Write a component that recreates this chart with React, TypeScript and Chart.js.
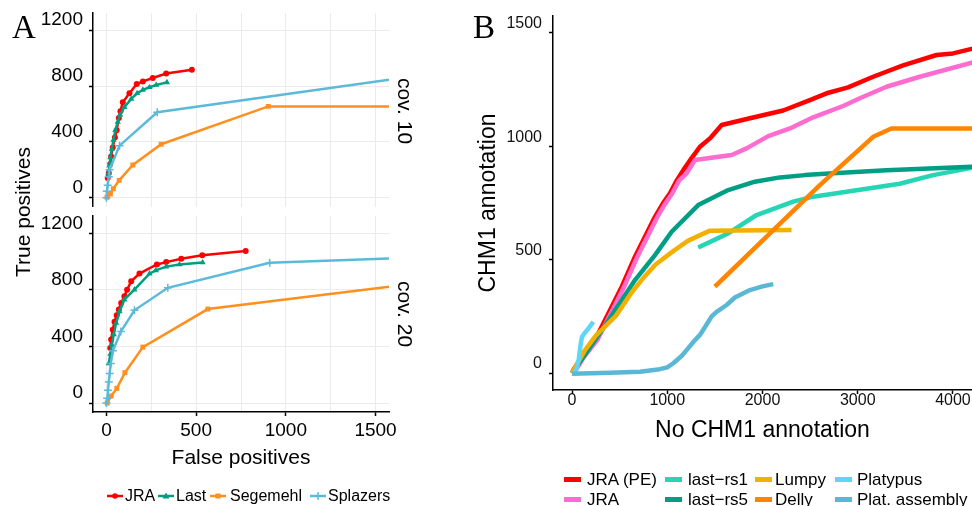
import React, { useEffect, useRef } from "react";
import { Chart, registerables } from "chart.js";

Chart.register(...registerables);

const SANS = "'Liberation Sans', Arial, Helvetica, sans-serif";
const SERIF = "'Liberation Serif', 'Times New Roman', serif";

// ---------- Panel A ----------
const A_X_TICKS = [0, 250, 500, 750, 1000, 1250, 1500];
const A_X_LABELED = [0, 500, 1000, 1500];
const A_Y_TICKS = [0, 400, 800, 1200];
const A_SERIES = ["JRA", "Last", "Segemehl", "Splazers"];
const A_COLORS = ["#ff0000", "#009e80", "#ff8f1f", "#5bbad9"];
const A_MARKERS = ["circle", "triangle", "rect", "cross"];
const A_FACETS = ["cov. 10", "cov. 20"];

// cov. 10
const jra10FP = [7, 13, 21, 26, 35, 47, 57, 69, 78, 91, 128, 169, 203, 258, 333, 476];
const jra10TP = [142, 177, 241, 295, 359, 432, 484, 571, 620, 684, 748, 814, 833, 857, 890, 916];
const last10FP = [11, 17, 22, 30, 39, 50, 63, 76, 100, 138, 171, 203, 240, 277, 337];
const last10TP = [177, 229, 288, 349, 413, 484, 543, 595, 649, 708, 748, 772, 791, 807, 826];
const seg10FP = [3, 22, 38, 71, 147, 305, 902, 1800];
const seg10TP = [3, 26, 64, 124, 234, 383, 654, 654];
const spl10FP = [0, 2, 7, 13, 17, 73, 283, 1800];
const spl10TP = [0, 47, 90, 150, 200, 373, 612, 886];

// cov. 20
const jra20FP = [21, 26, 35, 45, 57, 69, 82, 100, 115, 138, 184, 281, 333, 417, 534, 776];
const jra20TP = [390, 450, 518, 575, 622, 662, 708, 755, 802, 861, 916, 980, 997, 1021, 1045, 1075];
const last20FP = [13, 22, 30, 41, 54, 73, 100, 156, 240, 275, 333, 407, 536];
const last20TP = [280, 347, 412, 486, 566, 648, 732, 802, 915, 938, 965, 980, 994];
const seg20FP = [4, 26, 58, 103, 203, 565, 1800];
const seg20TP = [0, 50, 104, 215, 396, 665, 857];
const spl20FP = [0, 4, 8, 13, 18, 24, 36, 80, 156, 342, 910, 1800];
const spl20TP = [0, 35, 90, 150, 210, 280, 370, 506, 656, 815, 992, 1033];

// ---------- Panel B ----------
const B_X_TICKS = [0, 1000, 2000, 3000, 4000];
const B_Y_TICKS = [0, 500, 1000, 1500];
const B_SERIES = ["JRA (PE)", "JRA", "last\u2212rs1", "last\u2212rs5", "Lumpy", "Delly", "Platypus", "Plat. assembly"];
const B_COLORS = ["#ff0000", "#ff6ccf", "#24d6b4", "#009e84", "#f4b000", "#ff8500", "#5fd6f6", "#5ab8d6"];

const jrapeX = [0, 14, 100, 241, 381, 522, 661, 771, 871, 950, 1028, 1100, 1168, 1250, 1343, 1448, 1571, 1868, 2217, 2497, 2673, 2899, 3162, 3476, 3827, 4001, 4197, 4300];
const jrapeY = [0, 13, 70, 146, 263, 381, 513, 605, 689, 745, 793, 850, 895, 945, 998, 1035, 1094, 1124, 1158, 1204, 1234, 1260, 1307, 1357, 1403, 1410, 1430, 1438];
const jraX = [0, 40, 125, 266, 406, 547, 686, 796, 896, 975, 1053, 1125, 1203, 1291, 1676, 1833, 2060, 2288, 2532, 2847, 3022, 3302, 3652, 4197, 4300];
const jraY = [0, 13, 70, 146, 263, 381, 513, 605, 689, 745, 793, 850, 881, 940, 962, 991, 1045, 1079, 1128, 1178, 1212, 1263, 1307, 1369, 1380];
const rs1X = [1325, 1640, 1938, 2322, 2532, 3442, 3791, 4197, 4300];
const rs1Y = [554, 616, 697, 756, 778, 835, 873, 905, 912];
const rs5X = [0, 150, 330, 504, 661, 871, 1046, 1325, 1640, 1920, 2183, 2445, 2742, 3302, 4197, 4300];
const rs5Y = [0, 90, 200, 310, 410, 520, 623, 741, 807, 844, 863, 873, 881, 895, 910, 911];
const lumpyX = [0, 136, 250, 460, 620, 760, 880, 1070, 1220, 1448, 2305];
const lumpyY = [0, 101, 165, 252, 352, 425, 480, 540, 584, 628, 631];
const dellyX = [1500, 2602, 3162, 3354, 4300];
const dellyY = [381, 829, 1042, 1079, 1079];
const platX = [20, 45, 70, 90, 105, 136, 170, 224];
const platY = [0, 15, 60, 125, 160, 178, 196, 226];
const asmX = [0, 399, 714, 900, 1000, 1063, 1150, 1203, 1280, 1343, 1400, 1466, 1518, 1623, 1710, 1800, 1868, 2000, 2113];
const asmY = [-3, 1, 6, 15, 25, 43, 75, 101, 140, 168, 205, 250, 270, 300, 333, 352, 366, 382, 392];

const A10 = [[jra10FP, jra10TP], [last10FP, last10TP], [seg10FP, seg10TP], [spl10FP, spl10TP]];
const A20 = [[jra20FP, jra20TP], [last20FP, last20TP], [seg20FP, seg20TP], [spl20FP, spl20TP]];
const BDATA = [[jrapeX, jrapeY], [jraX, jraY], [rs1X, rs1Y], [rs5X, rs5Y], [lumpyX, lumpyY], [dellyX, dellyY], [platX, platY], [asmX, asmY]];

const zeroPad = (s: any) => {
  s.paddingLeft = 0; s.paddingRight = 0; s.paddingTop = 0; s.paddingBottom = 0;
};

function aDatasets(facet: number[][][]) {
  return facet.map(([xs, ys], i) => {
    const m = A_MARKERS[i];
    return {
      label: A_SERIES[i],
      data: xs.map((x, j) => ({ x, y: ys[j] })),
      borderColor: A_COLORS[i],
      backgroundColor: A_COLORS[i],
      pointBackgroundColor: A_COLORS[i],
      pointBorderColor: A_COLORS[i],
      borderWidth: 2.5,
      pointStyle: m,
      pointRadius: m === "cross" ? 4 : m === "rect" ? 3.5 : m === "triangle" ? 3.6 : 3,
      pointBorderWidth: m === "cross" ? 1.5 : 0,
      tension: 0,
      fill: false,
      clip: 0,
      order: -i,
    };
  });
}

function aOptions(bottom: boolean): any {
  return {
    animation: false,
    responsive: false,
    events: [],
    layout: { padding: { left: 0, right: 31, top: 13, bottom: bottom ? 0 : 3 } },
    plugins: { legend: { display: false }, tooltip: { enabled: false } },
    scales: {
      x: {
        type: "linear",
        min: -75,
        max: 1575,
        afterBuildTicks: (s: any) => { s.ticks = A_X_TICKS.map((v) => ({ value: v })); },
        afterFit: (s: any) => { s.height = bottom ? 94 : 0; zeroPad(s); },
        grid: {
          color: "#ebebeb",
          lineWidth: 1,
          drawTicks: bottom,
          tickLength: 4,
          tickWidth: 1.5,
          tickColor: (c: any) => (c.tick && A_X_LABELED.includes(c.tick.value) ? "#000" : "rgba(0,0,0,0)"),
        },
        border: { display: bottom, color: "#000", width: 1.5 },
        ticks: {
          display: bottom,
          autoSkip: false,
          maxRotation: 0,
          color: "#000",
          font: { family: SANS, size: 19 },
          padding: 3,
          callback: (v: any) => (A_X_LABELED.includes(v) ? String(v) : ""),
        },
        title: {
          display: bottom,
          text: "False positives",
          color: "#000",
          font: { family: SANS, size: 21 },
          padding: { top: 0, bottom: 35 },
        },
      },
      y: {
        type: "linear",
        min: -63,
        max: 1323,
        afterBuildTicks: (s: any) => { s.ticks = A_Y_TICKS.map((v) => ({ value: v })); },
        afterFit: (s: any) => { s.width = 93; zeroPad(s); },
        grid: { color: "#ebebeb", lineWidth: 1, tickLength: 4, tickWidth: 1.5, tickColor: "#000" },
        border: { display: true, color: "#000", width: 1.5 },
        ticks: {
          autoSkip: false,
          color: "#000",
          font: { family: SANS, size: 19 },
          padding: 6,
          labelOffset: -10,
          callback: (v: any) => String(v),
        },
      },
    },
  };
}

function bOptions(): any {
  return {
    animation: false,
    responsive: false,
    events: [],
    layout: { padding: { left: 0, right: 0, top: 16, bottom: 0 } },
    plugins: { legend: { display: false }, tooltip: { enabled: false } },
    scales: {
      x: {
        type: "linear",
        min: -200,
        max: 4200,
        afterBuildTicks: (s: any) => { s.ticks = B_X_TICKS.map((v) => ({ value: v })); },
        afterFit: (s: any) => { s.height = 116; zeroPad(s); },
        grid: { drawOnChartArea: false, drawTicks: true, tickLength: 4, tickWidth: 1.5, tickColor: "#000" },
        border: { display: true, color: "#000", width: 1.5 },
        ticks: {
          autoSkip: false,
          maxRotation: 0,
          color: "#111",
          font: { family: SANS, size: 16 },
          padding: -3,
          callback: (v: any) => String(v),
        },
        title: {
          display: true,
          text: "No CHM1 annotation",
          color: "#000",
          font: { family: SANS, size: 23 },
          padding: { top: 0, bottom: 62 },
        },
      },
      y: {
        type: "linear",
        min: -75,
        max: 1575,
        afterBuildTicks: (s: any) => { s.ticks = B_Y_TICKS.map((v) => ({ value: v })); },
        afterFit: (s: any) => { s.width = 93; zeroPad(s); },
        grid: { drawOnChartArea: false, drawTicks: true, tickLength: 4, tickWidth: 1.5, tickColor: "#000" },
        border: { display: true, color: "#000", width: 1.5 },
        ticks: {
          autoSkip: false,
          color: "#111",
          font: { family: SANS, size: 16 },
          padding: 7,
          labelOffset: -9,
          callback: (v: any) => String(v),
        },
        title: {
          display: true,
          text: "CHM1 annotation",
          color: "#000",
          font: { family: SANS, size: 23 },
          padding: { top: 15, bottom: 0 },
        },
      },
    },
  };
}

function bDatasets() {
  return BDATA.map(([xs, ys], i) => ({
    label: B_SERIES[i],
    data: xs.map((x, j) => ({ x, y: ys[j] })),
    borderColor: B_COLORS[i],
    backgroundColor: B_COLORS[i],
    borderWidth: 4.5,
    borderJoinStyle: "round",
    pointRadius: 0,
    tension: 0,
    fill: false,
    clip: 0,
    order: -i,
  }));
}

function Marker({ kind, color }: { kind: string; color: string }) {
  if (kind === "circle") return <circle cx={8} cy={5} r={2.8} fill={color} />;
  if (kind === "triangle") return <polygon points="8,1.4 11.4,7.6 4.6,7.6" fill={color} />;
  if (kind === "rect") return <rect x={5.5} y={2.5} width={5} height={5} fill={color} />;
  return <path d="M8 1 V9 M4 5 H12" stroke={color} strokeWidth={1.5} />;
}

const A_LEG_SYM_X = [107, 158, 210, 310];
const A_LEG_TXT_X = [125, 176, 230, 328];
const B_LEG_SYM_X = [564, 665, 755, 835];
const B_LEG_TXT_X = [587, 688, 775, 857];
const B_LEG_ROW_Y = [479, 499];

export default function App() {
  const a1 = useRef<HTMLCanvasElement>(null);
  const a2 = useRef<HTMLCanvasElement>(null);
  const b = useRef<HTMLCanvasElement>(null);

  useEffect(() => {
    const charts: Chart[] = [];
    charts.push(new Chart(a1.current!, { type: "line", data: { datasets: aDatasets(A10) as any }, options: aOptions(false) }));
    charts.push(new Chart(a2.current!, { type: "line", data: { datasets: aDatasets(A20) as any }, options: aOptions(true) }));
    charts.push(new Chart(b.current!, { type: "line", data: { datasets: bDatasets() as any }, options: bOptions() }));
    return () => charts.forEach((c) => c.destroy());
  }, []);

  const text = (style: React.CSSProperties, content: string, key?: any) => (
    <div key={key} style={{ position: "absolute", whiteSpace: "nowrap", lineHeight: 1, color: "#000", ...style }}>{content}</div>
  );

  return (
    <div style={{ position: "fixed", left: 0, top: 0, width: 972, height: 506, background: "#fff", overflow: "hidden", fontFamily: SANS }}>
      <canvas ref={a1} width={420} height={212} style={{ position: "absolute", left: 0, top: 0, width: 420, height: 212 }} />
      <canvas ref={a2} width={420} height={303} style={{ position: "absolute", left: 0, top: 203, width: 420, height: 303 }} />
      <canvas ref={b} width={512} height={506} style={{ position: "absolute", left: 460, top: 0, width: 512, height: 506 }} />

      {text({ left: 12, top: 11, fontFamily: SERIF, fontSize: 33 }, "A")}
      {text({ left: 473, top: 11, fontFamily: SERIF, fontSize: 33 }, "B")}

      {text({ left: 22, top: 212, fontSize: 21, transform: "translate(-50%,-50%) rotate(-90deg)" }, "True positives")}
      {text({ left: 405, top: 111, fontSize: 21, transform: "translate(-50%,-50%) rotate(90deg)" }, A_FACETS[0])}
      {text({ left: 405, top: 314, fontSize: 21, transform: "translate(-50%,-50%) rotate(90deg)" }, A_FACETS[1])}

      {A_SERIES.map((name, i) => (
        <React.Fragment key={name}>
          <svg width={16} height={10} style={{ position: "absolute", left: A_LEG_SYM_X[i], top: 491 }}>
            <line x1={0} y1={5} x2={16} y2={5} stroke={A_COLORS[i]} strokeWidth={2.5} />
            <Marker kind={A_MARKERS[i]} color={A_COLORS[i]} />
          </svg>
          {text({ left: A_LEG_TXT_X[i], top: 496, fontSize: 16, transform: "translateY(-50%)" }, name)}
        </React.Fragment>
      ))}

      {B_SERIES.map((name, i) => {
        const col = Math.floor(i / 2);
        const row = i % 2;
        return (
          <React.Fragment key={name}>
            <div style={{ position: "absolute", left: B_LEG_SYM_X[col], top: B_LEG_ROW_Y[row] - 2.5, width: 17, height: 5, background: B_COLORS[i] }} />
            {text({ left: B_LEG_TXT_X[col], top: B_LEG_ROW_Y[row], fontSize: 17, transform: "translateY(-50%)" }, name)}
          </React.Fragment>
        );
      })}
    </div>
  );
}
